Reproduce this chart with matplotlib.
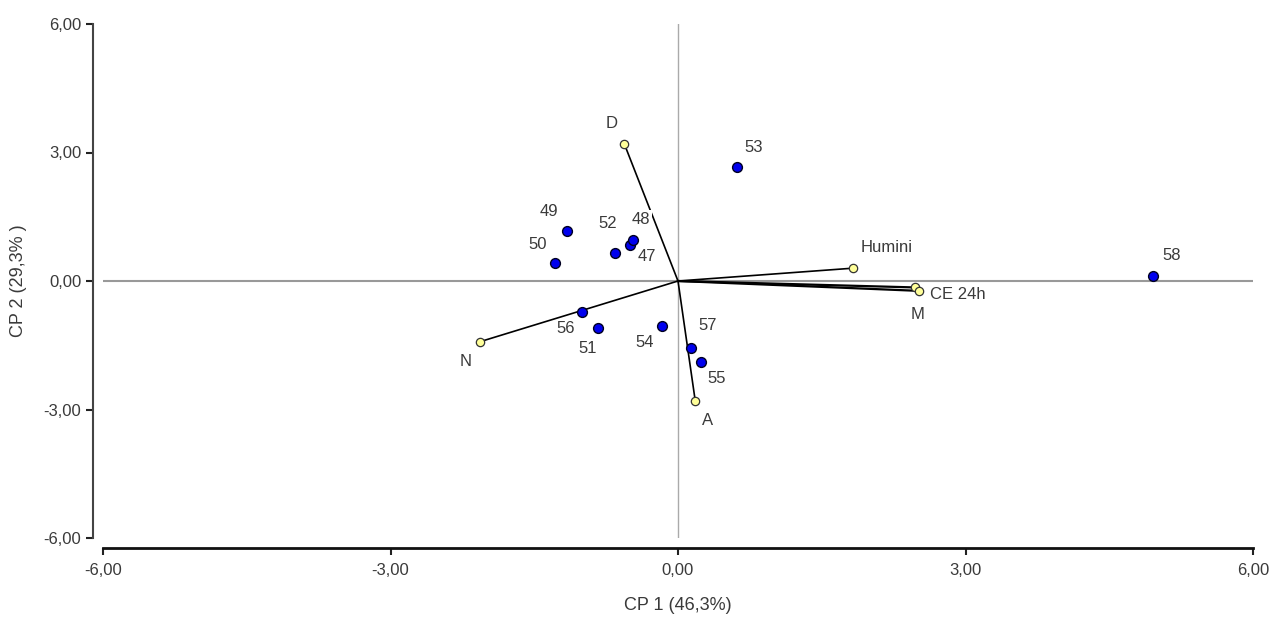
import matplotlib.pyplot as plt
from matplotlib.ticker import FuncFormatter

plt.rcParams['font.family'] = ['Liberation Sans Narrow', 'Liberation Sans', 'DejaVu Sans']

# scores (samples)
amostras = ["47", "48", "49", "50", "51", "52", "53", "54", "55", "56", "57", "58"]
cp1_amostras = [-0.50, -0.47, -1.16, -1.28, -0.83, -0.66, 0.62, -0.17, 0.24, -1.00, 0.14, 4.96]
cp2_amostras = [0.84, 0.96, 1.17, 0.42, -1.10, 0.65, 2.66, -1.05, -1.89, -0.72, -1.56, 0.12]

# loadings (variables)
variaveis = ["D", "N", "A", "Humini", "CE 24h", "M"]
cp1_var = [-0.56, -2.07, 0.18, 1.83, 2.47, 2.51]
cp2_var = [3.20, -1.42, -2.80, 0.30, -0.15, -0.23]

# label offsets in points (dx, dy)
off_amostras = {"47": (12, -8), "48": (6, 15), "49": (-13, 14), "50": (-13, 13),
                "51": (-8, -15), "52": (-5, 21), "53": (12, 14), "54": (-12, -12),
                "55": (11, -12), "56": (-12, -12), "57": (12, 16), "58": (13, 15)}
off_var = {"D": (-9, 15), "N": (-10, -14), "A": (9, -14), "Humini": (24, 15),
           "CE 24h": (31, -5), "M": (-1, -17)}

fig = plt.figure(figsize=(12.7, 6.19), dpi=100)
ax = fig.add_axes([103/1270, 1 - 538/619, 1150/1270, 514/619])

ax.axhline(0, color="#999999", lw=1.5, zorder=1)
ax.axvline(0, color="#aaaaaa", lw=1, zorder=1)

for x, y in zip(cp1_var, cp2_var):
    ax.plot([0, x], [0, y], color="black", lw=1.6 if abs(y) < 0.25 else 1.2, zorder=2)

ax.scatter(cp1_amostras, cp2_amostras, s=50, c="#0000ee", edgecolors="#000022", linewidths=1.0, zorder=4)
ax.scatter(cp1_var, cp2_var, s=36, c="#ffff99", edgecolors="#333333", linewidths=0.9, zorder=4)

for nome, x, y in zip(amostras, cp1_amostras, cp2_amostras):
    dx, dy = off_amostras[nome]
    bbox = dict(facecolor="white", edgecolor="none", pad=1) if nome == "48" else None
    ax.annotate(nome, (x, y), xytext=(dx, dy), textcoords="offset points",
                ha="center", va="center", fontsize=12, color="#3a3a3a", bbox=bbox, zorder=3)

for nome, x, y in zip(variaveis, cp1_var, cp2_var):
    dx, dy = off_var[nome]
    ax.annotate(nome, (x, y), xytext=(dx, dy), textcoords="offset points",
                ha="center", va="center", fontsize=12, color="#3a3a3a", zorder=3)

ax.set_xlim(-6, 6)
ax.set_ylim(-6, 6)
ax.set_xticks([-6, -3, 0, 3, 6])
ax.set_yticks([-6, -3, 0, 3, 6])
fmt = FuncFormatter(lambda v, p: f"{v:.2f}".replace(".", ",").replace("-0,00", "0,00"))
ax.xaxis.set_major_formatter(fmt)
ax.yaxis.set_major_formatter(fmt)

for s in ["top", "right"]:
    ax.spines[s].set_visible(False)
ax.spines["left"].set_position(("outward", 7))
ax.spines["bottom"].set_position(("outward", 7))
ax.spines["left"].set_color("#444444")
ax.spines["bottom"].set_color("#111111")
ax.spines["left"].set_linewidth(1.5)
ax.spines["bottom"].set_linewidth(2)
ax.tick_params(direction="out", length=5, width=1.5, labelsize=12, colors="#222222", labelcolor="#3a3a3a")
ax.tick_params(axis="x", pad=6)

ax.set_xlabel("CP 1 (46,3%)", fontsize=13, color="#3a3a3a", labelpad=14)
ax.set_ylabel("CP 2 (29,3% )", fontsize=13, color="#3a3a3a", labelpad=12)

plt.savefig("out.png", dpi=100)
